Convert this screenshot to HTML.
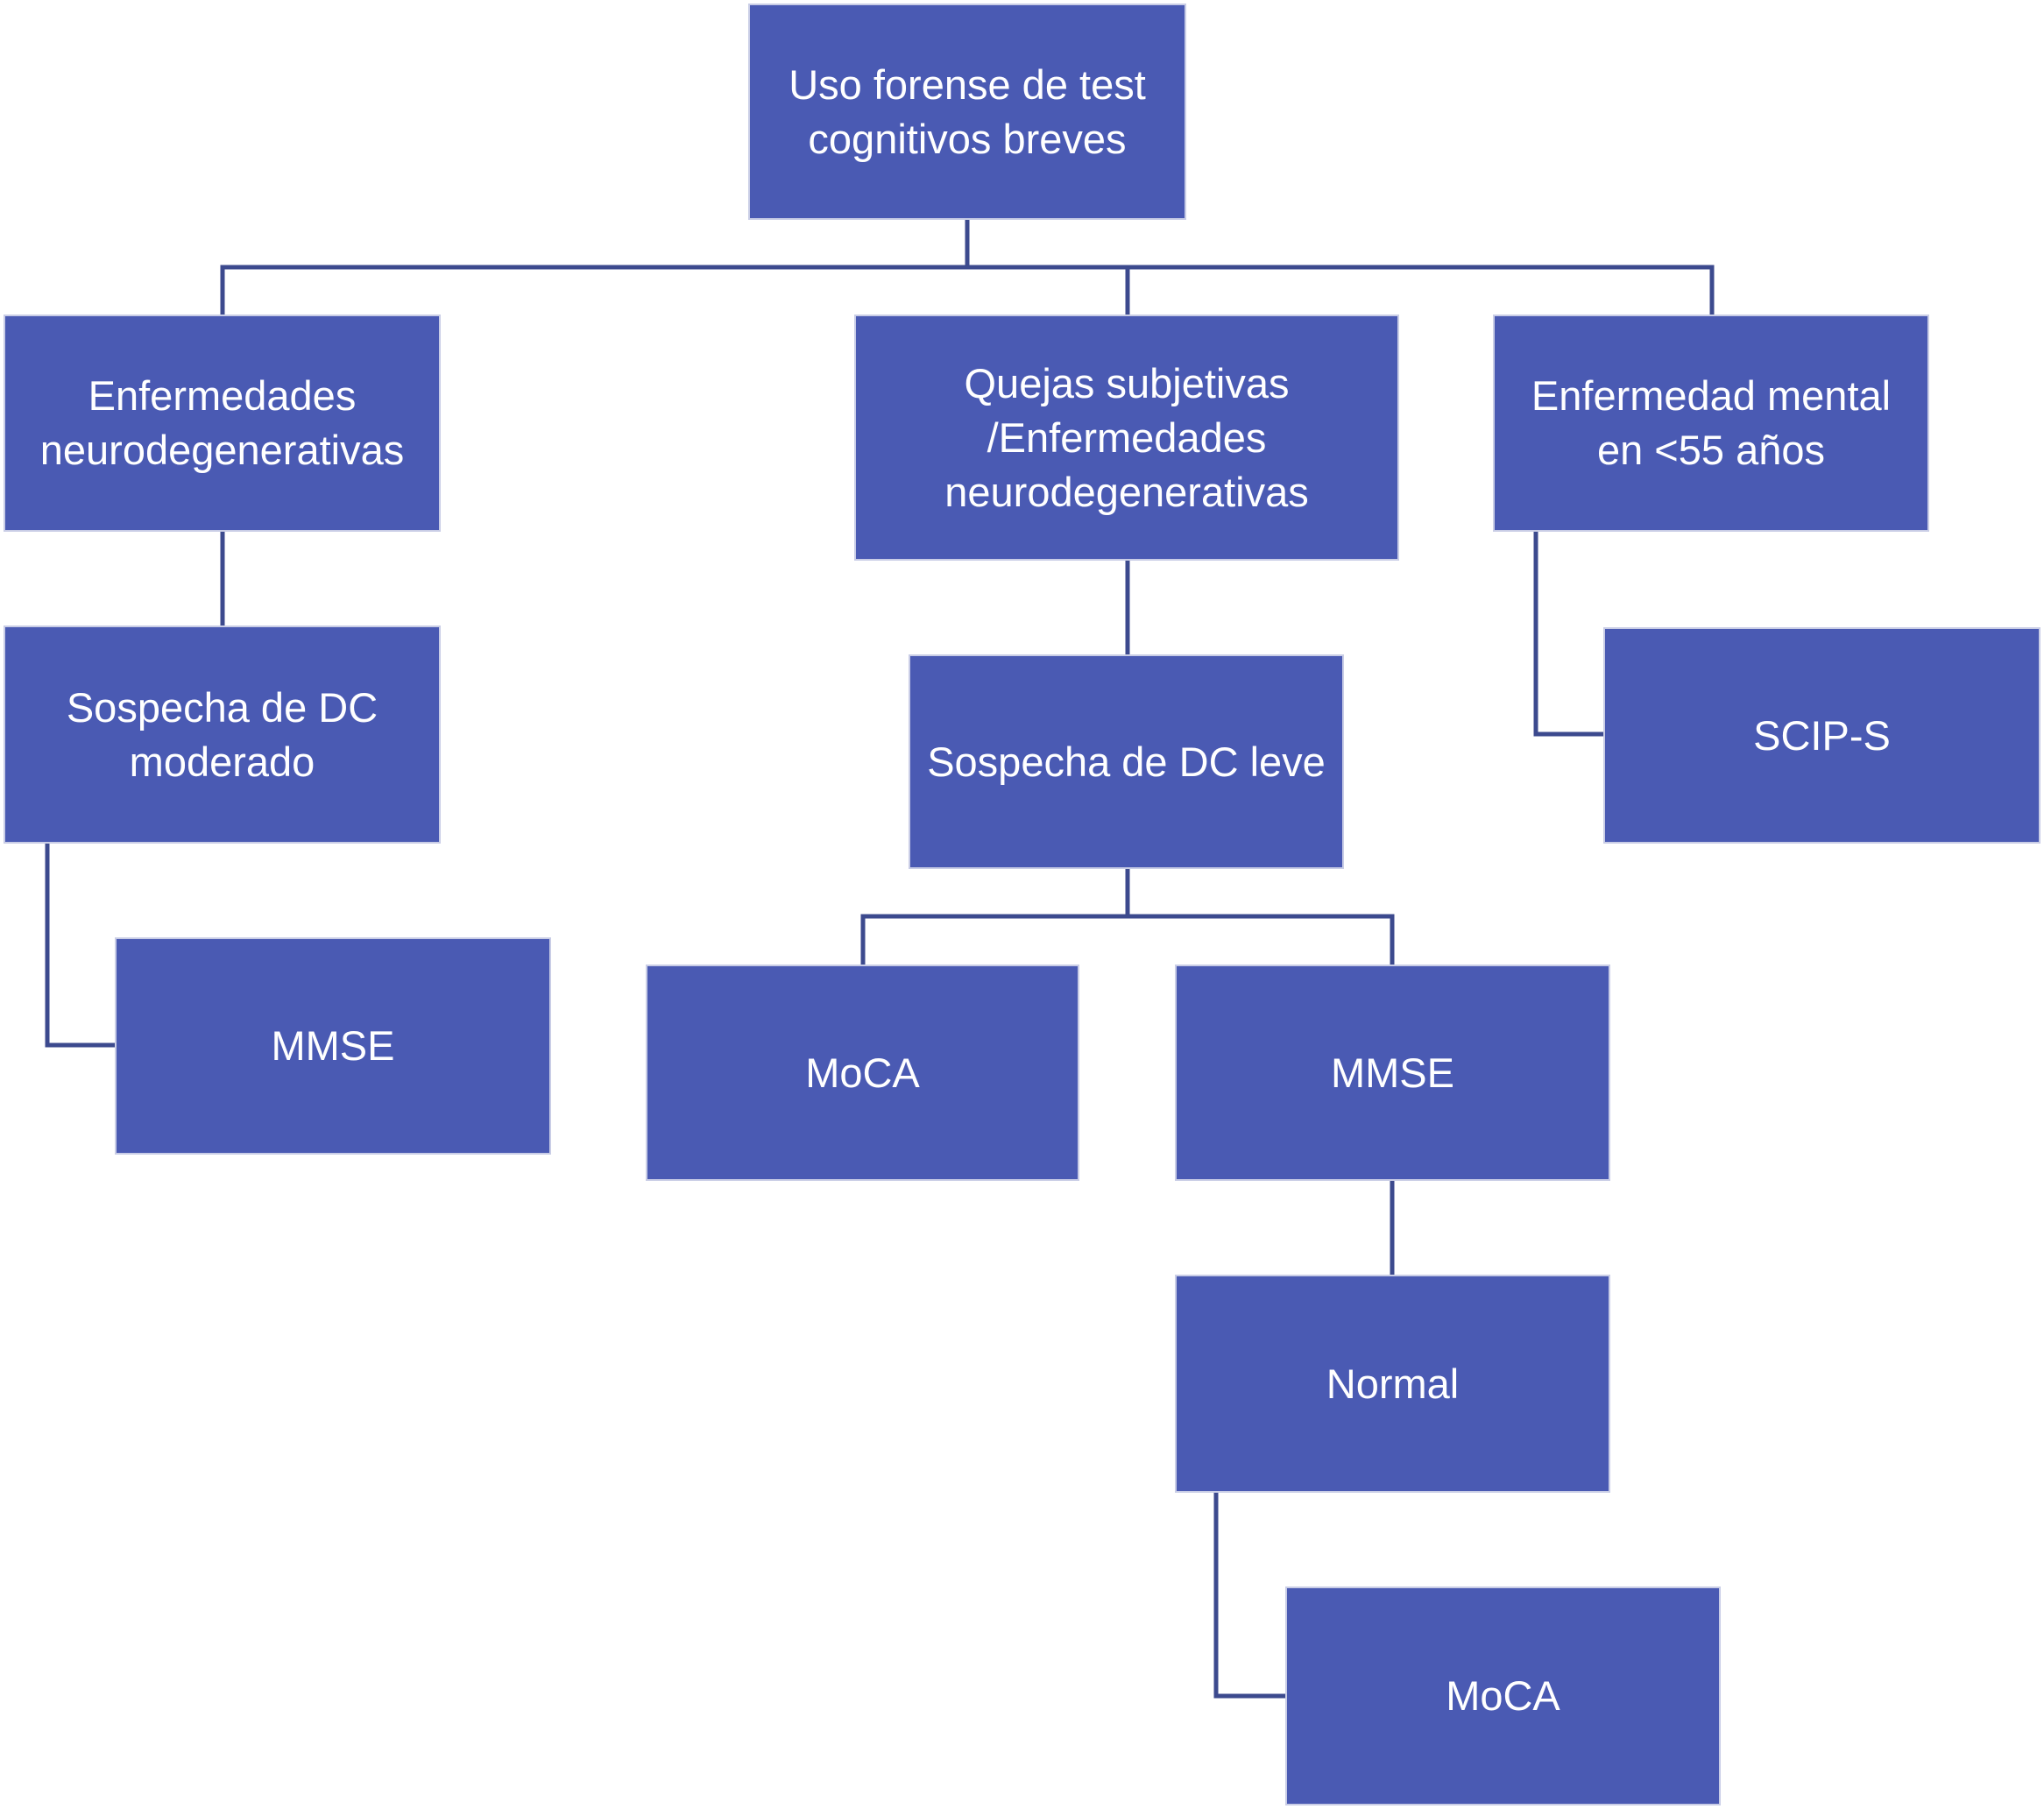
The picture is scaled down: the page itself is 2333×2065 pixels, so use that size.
<!DOCTYPE html>
<html><head><meta charset="utf-8"><style>
html,body{margin:0;padding:0;background:#fff;}
body{width:2333px;height:2065px;position:relative;overflow:hidden;font-family:"Liberation Sans",sans-serif;}
.b{position:absolute;background:#4a5ab3;border:2px solid #c9cde6;box-sizing:border-box;display:flex;align-items:center;justify-content:center;text-align:center;color:#fff;font-size:47px;line-height:62px;}
svg{position:absolute;left:0;top:0;}
</style></head><body>
<svg width="2333" height="2065"><g stroke="#3c4a8e" stroke-width="5" fill="none">
<path d="M1104 251V305M254 359V305H1954V359M1287 305V359"/>
<path d="M254 607V714"/>
<path d="M54 963V1193H131"/>
<path d="M1287 640V747"/>
<path d="M1287 992V1046M985 1101V1046H1589V1101"/>
<path d="M1753 607V838H1830"/>
<path d="M1589 1348V1455"/>
<path d="M1388 1704V1936H1467"/>
</g></svg>
<div class="b" style="left:854px;top:4px;width:500px;height:247px">Uso forense de test<br>cognitivos breves</div>
<div class="b" style="left:4px;top:359px;width:499px;height:248px">Enfermedades<br>neurodegenerativas</div>
<div class="b" style="left:975px;top:359px;width:622px;height:281px">Quejas subjetivas<br>/Enfermedades<br>neurodegenerativas</div>
<div class="b" style="left:1704px;top:359px;width:498px;height:248px">Enfermedad mental<br>en &lt;55 años</div>
<div class="b" style="left:4px;top:714px;width:499px;height:249px">Sospecha de DC<br>moderado</div>
<div class="b" style="left:131px;top:1070px;width:498px;height:248px">MMSE</div>
<div class="b" style="left:1037px;top:747px;width:497px;height:245px">Sospecha de DC leve</div>
<div class="b" style="left:1830px;top:716px;width:499px;height:247px">SCIP-S</div>
<div class="b" style="left:737px;top:1101px;width:495px;height:247px">MoCA</div>
<div class="b" style="left:1341px;top:1101px;width:497px;height:247px">MMSE</div>
<div class="b" style="left:1341px;top:1455px;width:497px;height:249px">Normal</div>
<div class="b" style="left:1467px;top:1811px;width:497px;height:250px">MoCA</div>
</body></html>
